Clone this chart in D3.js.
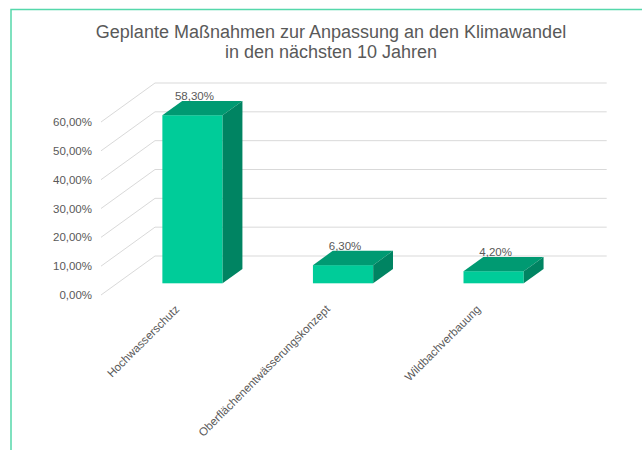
<!DOCTYPE html>
<html>
<head>
<meta charset="utf-8">
<script src="https://cdn.jsdelivr.net/npm/d3@7"></script>
<style>
  body { margin: 0; background: #fff; }
  text { font-family: "Liberation Sans", Arial, sans-serif; fill: #595959; }
</style>
</head>
<body>
<div id="chart"></div>
<script>
// data
const categories = ["Hochwasserschutz", "Oberflächenentwässerungskonzept", "Wildbachverbauung"];
const values = [0.583, 0.063, 0.042];
const yTicks = [0, 0.1, 0.2, 0.3, 0.4, 0.5, 0.6];
const titleLines = ["Geplante Maßnahmen zur Anpassung an den Klimawandel", "in den nächsten 10 Jahren"];

const W = 642, H = 450;
const DX = 54, DY = -39;      // depth of the 3d box
const Z0 = 0.3, Z1 = 0.667;   // bar depth range

const de = d3.formatLocale({decimal: ",", thousands: ".", grouping: [3], currency: ["", "€"]});
const pct = de.format(".2%");

const svg = d3.select("#chart")
    .append("svg")
    .attr("width", W)
    .attr("height", H);

// frame
svg.append("path")
    .attr("d", `M${W},9.5 L11,9.5 L11,${H}`)
    .attr("fill", "none")
    .attr("stroke", "#55d8ab")
    .attr("stroke-width", 1.5);

// title
svg.append("g").selectAll("text")
    .data(titleLines)
    .join("text")
    .attr("x", 331)
    .attr("y", (d, i) => 38 + i * 20)
    .attr("text-anchor", "middle")
    .style("font-size", "18px")
    .text(d => d);

const x = d3.scaleBand()
    .domain(categories)
    .range([101, 552.7])
    .paddingInner(0.6)
    .paddingOuter(0.3);

const y = d3.scaleLinear()
    .domain([0, 0.6])
    .range([295, 122]);

// grid: left wall diagonals and back wall lines
const grid = svg.append("g")
    .attr("stroke", "#d9d9d9")
    .attr("stroke-width", 1)
    .attr("fill", "none");

grid.selectAll(".side")
    .data(yTicks)
    .join("line")
    .attr("x1", 101).attr("y1", d => y(d))
    .attr("x2", 101 + DX).attr("y2", d => y(d) + DY);

grid.selectAll(".back")
    .data(yTicks)
    .join("line")
    .attr("x1", 101 + DX).attr("y1", d => y(d) + DY)
    .attr("x2", 606.7).attr("y2", d => y(d) + DY);

// y labels
svg.append("g").selectAll("text")
    .data(yTicks)
    .join("text")
    .attr("x", 92)
    .attr("y", d => y(d))
    .attr("dy", "0.35em")
    .attr("text-anchor", "end")
    .style("font-size", "11.5px")
    .text(d => pct(d));

// bars
const bw = x.bandwidth();
const bars = svg.append("g").selectAll("g")
    .data(categories.map((c, i) => ({c, v: values[i]})))
    .join("g");

const fx = d => x(d.c) + Z0 * DX;
const fyTop = d => y(d.v) + Z0 * DY;
const fyBot = d => y(0) + Z0 * DY;
const ddx = (Z1 - Z0) * DX, ddy = (Z1 - Z0) * DY;

bars.append("rect")
    .attr("x", fx)
    .attr("y", fyTop)
    .attr("width", bw)
    .attr("height", d => fyBot(d) - fyTop(d))
    .attr("fill", "#00cc99");

bars.append("path")
    .attr("d", d => `M${fx(d)},${fyTop(d)} l${ddx},${ddy} h${bw} l${-ddx},${-ddy} Z`)
    .attr("fill", "#009a72");

bars.append("path")
    .attr("d", d => `M${fx(d) + bw},${fyTop(d)} l${ddx},${ddy} V${fyBot(d) + ddy} l${-ddx},${-ddy} Z`)
    .attr("fill", "#008462");

bars.append("text")
    .attr("x", d => fx(d) + bw / 2 + 2)
    .attr("y", d => fyTop(d) + ddy - 1)
    .attr("text-anchor", "middle")
    .style("font-size", "11.5px")
    .text(d => pct(d.v));

// category labels
svg.append("g").selectAll("text")
    .data(categories)
    .join("text")
    .attr("transform", d => `translate(${x(d) + bw / 2 + 1},307) rotate(-45)`)
    .attr("text-anchor", "end")
    .attr("dy", "0.35em")
    .style("font-size", "11.5px")
    .text(d => d);
</script>
</body>
</html>
